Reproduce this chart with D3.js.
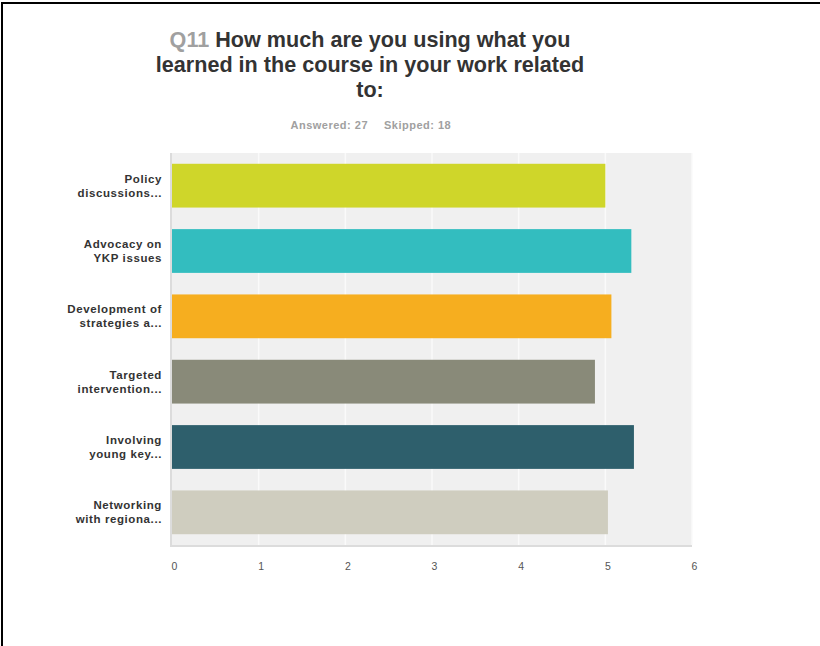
<html>
<meta charset="utf-8">
<head>
<style>
  body { margin: 0; background: #fff; }
  #chart { position: relative; width: 820px; height: 646px; }
</style>
</head>
<body>
<div id="chart"></div>
<script src="https://cdn.jsdelivr.net/npm/d3@7"></script>
<script>
// categories (two-line labels as shown in the chart)
var categories = [
  ["Policy", "discussions..."],
  ["Advocacy on", "YKP issues"],
  ["Development of", "strategies a..."],
  ["Targeted", "intervention..."],
  ["Involving", "young key..."],
  ["Networking", "with regiona..."]
];
var values = [5.00, 5.30, 5.07, 4.88, 5.33, 5.03];
var colors = ["#cfd62a", "#33bdbf", "#f6ae1f", "#898a79", "#2e5f6c", "#cfcdbf"];
var xTicks = [0, 1, 2, 3, 4, 5, 6];

var svg = d3.select("#chart").append("svg")
    .attr("width", 820)
    .attr("height", 646);

// frame lines (top and left)
svg.append("rect").attr("x", 1).attr("y", 2).attr("width", 819).attr("height", 2).attr("fill", "#000");
svg.append("rect").attr("x", 1).attr("y", 2).attr("width", 2).attr("height", 644).attr("fill", "#000");

// title
var title = svg.append("text")
    .attr("text-anchor", "middle")
    .style("font-family", "Liberation Sans, Arial, sans-serif")
    .style("font-weight", "bold")
    .style("font-size", "21.6px")
    .attr("fill", "#333");
var l1 = title.append("tspan").attr("x", 370).attr("y", 47);
l1.append("tspan").attr("fill", "#a0a0a0").text("Q11");
l1.append("tspan").text(" How much are you using what you");
title.append("tspan").attr("x", 370).attr("y", 72).text("learned in the course in your work related");
title.append("tspan").attr("x", 370).attr("y", 97).text("to:");

// answered / skipped
function sub(x, anchor, txt) {
  svg.append("text")
      .attr("x", x).attr("y", 129)
      .attr("text-anchor", anchor)
      .style("font-family", "Liberation Sans, Arial, sans-serif")
      .style("font-weight", "bold")
      .style("font-size", "11px")
      .style("letter-spacing", "0.5px")
      .attr("fill", "#a0a0a0")
      .text(txt);
}
sub(368, "end", "Answered: 27");
sub(384, "start", "Skipped: 18");

var plotLeft = 172, plotRight = 692, plotTop = 153, plotBottom = 545;

var x = d3.scaleLinear().domain([0, 6]).range([plotLeft, plotRight]);
var y = d3.scaleBand().domain(d3.range(categories.length)).range([plotTop, plotBottom]).paddingInner(0.33).paddingOuter(0.165);

// plot background
svg.append("rect")
    .attr("x", plotLeft).attr("y", plotTop)
    .attr("width", plotRight - plotLeft).attr("height", plotBottom - plotTop)
    .attr("fill", "#f0f0f0");

// vertical gridlines
svg.append("g").selectAll("line")
    .data(xTicks.slice(1))
    .enter().append("line")
    .attr("x1", function(d) { return x(d); })
    .attr("x2", function(d) { return x(d); })
    .attr("y1", plotTop).attr("y2", plotBottom)
    .attr("stroke", "#fafafa")
    .attr("stroke-width", 1.5);

// axis lines
svg.append("rect").attr("x", plotLeft - 2).attr("y", plotTop).attr("width", 2).attr("height", plotBottom - plotTop + 2).attr("fill", "#dcdcdc");
svg.append("rect").attr("x", plotLeft - 2).attr("y", plotBottom).attr("width", plotRight - plotLeft + 2).attr("height", 2).attr("fill", "#dcdcdc");

// bars
svg.append("g").selectAll("rect")
    .data(values)
    .enter().append("rect")
    .attr("x", x(0))
    .attr("y", function(d, i) { return y(i); })
    .attr("width", function(d) { return x(d) - x(0); })
    .attr("height", y.bandwidth())
    .attr("fill", function(d, i) { return colors[i]; });

// category labels
var labels = svg.append("g").selectAll("text")
    .data(categories)
    .enter().append("text")
    .attr("text-anchor", "end")
    .style("font-family", "Liberation Sans, Arial, sans-serif")
    .style("font-weight", "bold")
    .style("font-size", "11.5px")
    .style("letter-spacing", "0.6px")
    .attr("fill", "#333");
labels.each(function(d, i) {
  var cy = y(i) + y.bandwidth() / 2;
  var t = d3.select(this);
  t.append("tspan").attr("x", 162).attr("y", cy - 3).text(d[0]);
  t.append("tspan").attr("x", 162).attr("y", cy + 11).text(d[1]);
});

// x axis tick labels
var xAxis = svg.append("g")
    .attr("transform", "translate(0," + (plotBottom + 2) + ")")
    .call(d3.axisBottom(x).tickValues(xTicks).tickFormat(d3.format("d")).tickSize(0).tickPadding(16));
xAxis.select(".domain").remove();
xAxis.selectAll("text")
    .attr("dx", 2)
    .style("font-family", "Liberation Sans, Arial, sans-serif")
    .style("font-size", "10.5px")
    .attr("fill", "#555");
</script>
</body>
</html>
